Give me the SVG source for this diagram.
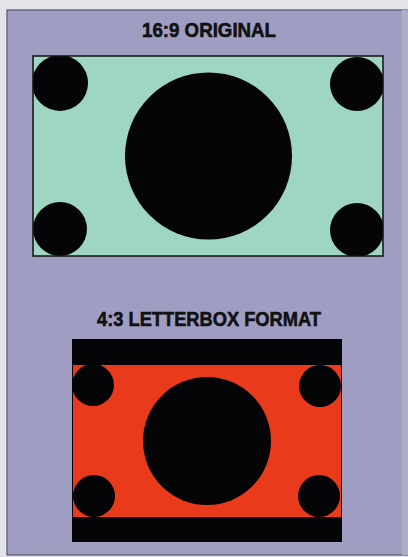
<svg xmlns="http://www.w3.org/2000/svg" width="408" height="557" viewBox="0 0 408 557">
<style>
.t{font-family:"Liberation Sans",Arial,sans-serif;font-weight:bold;font-size:21px;fill:#111;stroke:#111;stroke-width:0.6;text-anchor:start}
.dot{fill:#050508}
</style>
<defs>
<clipPath id="c1"><rect x="33" y="56" width="350" height="200"/></clipPath>
<clipPath id="c2"><rect x="73" y="365" width="268" height="152"/></clipPath>
</defs>
<rect x="0" y="0" width="408" height="557" fill="#e4e3ea"/>
<rect x="7" y="10" width="402" height="545" fill="#9f9ec2" stroke="#55556a" stroke-width="1.2"/>
<rect x="402" y="10" width="6" height="545" fill="#aeadc8"/>
<g id="title1"><text class="t" x="142" y="37" textLength="134" lengthAdjust="spacingAndGlyphs">16:9 ORIGINAL</text></g>
<g id="frame169">
<rect x="33" y="56" width="350" height="200" fill="#9fd6c2"/>
<g clip-path="url(#c1)">
<circle class="dot" cx="60" cy="83" r="28"/>
<circle class="dot" cx="357" cy="84" r="27"/>
<circle class="dot" cx="60" cy="229" r="27"/>
<circle class="dot" cx="357" cy="230" r="27"/>
</g>
<circle class="dot" cx="208.5" cy="156" r="83.5"/>
<rect x="33" y="56" width="350" height="200" fill="none" stroke="#111" stroke-width="1.5"/>
</g>
<g id="title2"><text class="t" x="97" y="326" textLength="224" lengthAdjust="spacingAndGlyphs">4:3 LETTERBOX FORMAT</text></g>
<g id="frame43">
<rect x="72" y="339" width="270" height="203" fill="#050508"/>
<rect x="73" y="365" width="268" height="152" fill="#ea3a1c"/>
<g clip-path="url(#c2)">
<circle class="dot" cx="93" cy="385" r="21"/>
<circle class="dot" cx="320" cy="386" r="21"/>
<circle class="dot" cx="94" cy="496" r="21"/>
<circle class="dot" cx="319" cy="496" r="21"/>
</g>
<circle class="dot" cx="207" cy="441" r="64"/>
</g>
</svg>
